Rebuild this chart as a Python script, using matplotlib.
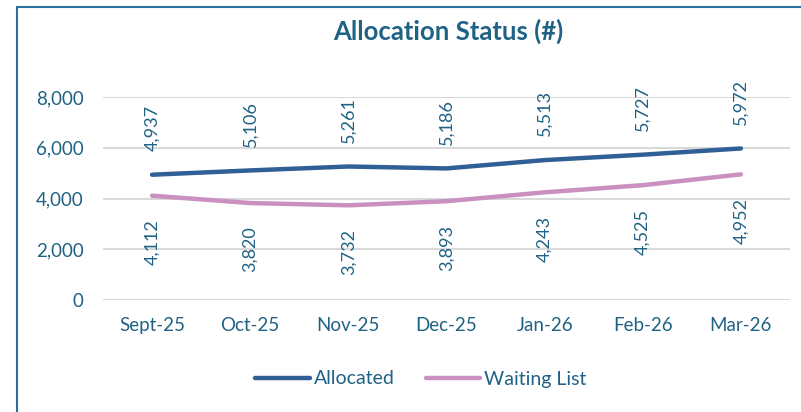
import matplotlib.pyplot as plt
from matplotlib.patches import Rectangle
from matplotlib.ticker import FuncFormatter

months = ["Sept-25", "Oct-25", "Nov-25", "Dec-25", "Jan-26", "Feb-26", "Mar-26"]
allocated = [4937, 5106, 5261, 5186, 5513, 5727, 5972]
waiting_list = [4112, 3820, 3732, 3893, 4243, 4525, 4952]

text_color = "#1F6285"
alloc_color = "#2F5F94"
wait_color = "#C990C0"

plt.rcParams["font.family"] = ["Lato", "DejaVu Sans"]

fig = plt.figure(figsize=(8.01, 4.12), dpi=100)
ax = fig.add_axes([103 / 801, 1 - 300 / 412, 687 / 801, 203 / 412])

x = list(range(len(months)))
ax.plot(x, allocated, color=alloc_color, lw=3.2, solid_capstyle="round",
        solid_joinstyle="round", label="Allocated", zorder=3)
ax.plot(x, waiting_list, color=wait_color, lw=3.2, solid_capstyle="round",
        solid_joinstyle="round", label="Waiting List", zorder=3)

# data labels, rotated like the original
for i in x:
    ax.annotate(f"{allocated[i]:,}", (i, allocated[i]), xytext=(0, 17),
                textcoords="offset points", rotation=90, ha="center",
                va="bottom", color=text_color, fontsize=13)
    ax.annotate(f"{waiting_list[i]:,}", (i, waiting_list[i]), xytext=(0, -17),
                textcoords="offset points", rotation=90, ha="center",
                va="top", color=text_color, fontsize=13)

ax.set_xlim(-0.5, len(months) - 0.5)
ax.set_ylim(0, 8000)
ax.set_yticks([0, 2000, 4000, 6000, 8000])
ax.yaxis.set_major_formatter(FuncFormatter(lambda v, p: f"{int(v):,}"))
ax.set_xticks(x)
ax.set_xticklabels(months)
ax.tick_params(axis="both", length=0, colors=text_color, labelsize=13.5)
ax.tick_params(axis="x", pad=12)
ax.tick_params(axis="y", pad=14)
ax.grid(axis="y", color="#D9D9D9", lw=1.5)
ax.set_axisbelow(True)
for s in ax.spines.values():
    s.set_visible(False)

fig.text(448 / 801, 1 - 31 / 412, "Allocation Status (#)", ha="center",
         va="center", fontsize=18.5, fontweight="bold", color=text_color)

leg = fig.legend(loc="center", bbox_to_anchor=(421 / 801, 1 - 379 / 412),
                 ncol=2, frameon=False, fontsize=14, handlelength=2.8,
                 handletextpad=0.2, columnspacing=1.6)
for t in leg.get_texts():
    t.set_color(text_color)

# outer chart border (only left and top edges visible in the crop)
fig.patches.append(Rectangle((17 / 801, -0.05), 1.0, 1 - 7 / 412 + 0.05,
                             transform=fig.transFigure, fill=False,
                             edgecolor="#2E6E9C", lw=1.5))

fig.savefig("out.png", dpi=100)
